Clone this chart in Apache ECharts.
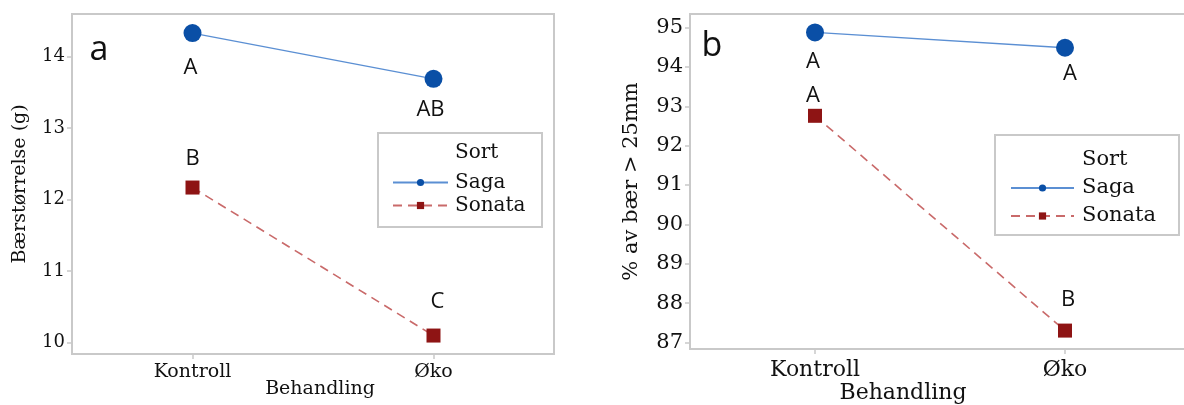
<!DOCTYPE html>
<html>
<head>
<meta charset="utf-8">
<script src="https://cdn.jsdelivr.net/npm/echarts@6/dist/echarts.min.js"></script>
<style>
  html, body { margin: 0; padding: 0; background: #ffffff; }
  #chart { width: 1184px; height: 405px; }
</style>
</head>
<body>
<div id="chart"></div>
<script>
// Treatments on the x axis
const categories = ['Kontroll', 'Øko'];
const legendTitle = 'Sort';
const varieties = ['Saga', 'Sonata'];

// Panel a: berry size (g)
const sagaSize = [14.33, 13.69];
const sonataSize = [12.17, 10.10];
const sagaSizeLetters = ['A', 'AB'];
const sonataSizeLetters = ['B', 'C'];
const sizeTicks = [10, 11, 12, 13, 14];

// Panel b: share of berries > 25 mm (%)
const sagaShare = [94.88, 94.49];
const sonataShare = [92.76, 87.30];
const sagaShareLetters = ['A', 'A'];
const sonataShareLetters = ['A', 'B'];
const shareTicks = [87, 88, 89, 90, 91, 92, 93, 94, 95];

const SERIF = '"DejaVu Serif", "Liberation Serif", serif';
const SANS = '"Open Sans", "Noto Sans", sans-serif';
const BLUE = '#0a4fa6';
const BLUE_LINE = '#5b8fd3';
const RED = '#8e1414';
const RED_LINE = '#c96a6a';
const FRAME = '#c9c9c9';

// Significance letters sit centred on the marker and are nudged above/below it
function lettered(values, letters, nudges) {
  return values.map((v, i) => ({
    value: v,
    label: { formatter: letters[i], offset: nudges[i] }
  }));
}

function lineSeries(name, values, letters, nudges, idx, isSaga) {
  return {
    name: name,
    type: 'line',
    xAxisIndex: idx,
    yAxisIndex: idx,
    data: lettered(values, letters, nudges),
    symbol: isSaga ? 'circle' : 'rect',
    symbolSize: isSaga ? 18 : 14,
    itemStyle: { color: isSaga ? BLUE : RED },
    lineStyle: {
      color: isSaga ? BLUE_LINE : RED_LINE,
      width: isSaga ? 1.4 : 1.6,
      type: isSaga ? 'solid' : [9, 6]
    },
    label: {
      show: true,
      position: 'inside',
      color: '#111111',
      fontFamily: SANS,
      fontSize: 22
    },
    emphasis: { disabled: true },
    animation: false,
    z: isSaga ? 3 : 2
  };
}

function xAxisFor(idx, fontSize, labelMargin, titleGap, titleShift) {
  return {
    type: 'category',
    gridIndex: idx,
    data: categories,
    boundaryGap: true,
    axisLine: { show: true, lineStyle: { color: FRAME, width: 2 } },
    axisTick: { show: true, alignWithLabel: true, length: 5, lineStyle: { color: FRAME, width: 1.5 } },
    axisLabel: { color: '#111111', fontFamily: SERIF, fontSize: fontSize, margin: labelMargin },
    splitLine: { show: false },
    name: 'Behandling',
    nameLocation: 'middle',
    nameGap: titleGap,
    nameMoveOverlap: false,
    nameTextStyle: {
      color: '#111111', fontFamily: SERIF, fontSize: fontSize,
      padding: titleShift > 0 ? [0, 0, 0, titleShift] : [0, -titleShift, 0, 0]
    }
  };
}

function yAxisFor(idx, min, max, ticks, title, fontSize, titleSize, gap) {
  return {
    type: 'value',
    gridIndex: idx,
    min: min,
    max: max,
    axisLine: { show: true, lineStyle: { color: FRAME, width: 2 } },
    axisTick: { show: true, length: 5, customValues: ticks, lineStyle: { color: FRAME, width: 1.5 } },
    axisLabel: { color: '#111111', fontFamily: SERIF, fontSize: fontSize, margin: 7, customValues: ticks },
    splitLine: { show: false },
    name: title,
    nameLocation: 'middle',
    nameRotate: 90,
    nameGap: gap,
    nameTextStyle: { color: '#111111', fontFamily: SERIF, fontSize: titleSize }
  };
}

function legendFor(left, top, fontSize, rowPitch, iconWidth, textGap) {
  return {
    data: varieties,
    orient: 'vertical',
    left: left,
    top: top,
    itemWidth: iconWidth,
    itemHeight: 9,
    itemGap: 0,
    selectedMode: false,
    textStyle: {
      color: '#111111', fontFamily: SERIF, fontSize: fontSize,
      lineHeight: rowPitch, padding: [0, 0, 0, textGap]
    }
  };
}

const chart = echarts.init(document.getElementById('chart'), null, { renderer: 'canvas' });

chart.setOption({
  backgroundColor: '#ffffff',
  animation: false,
  grid: [
    { left: 72, top: 14, width: 482, height: 340, outerBoundsMode: 'none', containLabel: false, show: true, borderColor: FRAME, borderWidth: 2, backgroundColor: 'transparent' },
    { left: 690, top: 14, width: 500, height: 335, outerBoundsMode: 'none', containLabel: false, show: true, borderColor: FRAME, borderWidth: 2, backgroundColor: 'transparent' }
  ],
  xAxis: [xAxisFor(0, 19, 9, 26, 14), xAxisFor(1, 22, 10, 33, -74)],
  yAxis: [
    yAxisFor(0, 9.842, 14.597, sizeTicks, 'Bærstørrelse (g)', 18, 19, 42),
    yAxisFor(1, 86.832, 95.348, shareTicks, '% av bær > 25mm', 21, 21, 48)
  ],
  legend: [
    legendFor(387, 166, 20, 23, 55, 2),
    legendFor(1005, 169, 21, 28, 63, 3)
  ],
  graphic: [
    // legend frames and their heading
    { type: 'rect', shape: { x: 378, y: 133, width: 164, height: 94 }, style: { fill: 'none', stroke: FRAME, lineWidth: 2 }, z: 1 },
    { type: 'rect', shape: { x: 995, y: 135, width: 184, height: 100 }, style: { fill: 'none', stroke: FRAME, lineWidth: 2 }, z: 1 },
    { type: 'text', x: 455, y: 153, style: { text: legendTitle, fill: '#111111', font: '20px ' + SERIF, textVerticalAlign: 'middle' }, z: 5 },
    { type: 'text', x: 1082, y: 160, style: { text: legendTitle, fill: '#111111', font: '21px ' + SERIF, textVerticalAlign: 'middle' }, z: 5 },
    // panel tags
    { type: 'text', x: 99, y: 50, style: { text: 'a', fill: '#111111', font: '34px ' + SANS, textAlign: 'center', textVerticalAlign: 'middle' }, z: 5 },
    { type: 'text', x: 712, y: 46, style: { text: 'b', fill: '#111111', font: '34px ' + SANS, textAlign: 'center', textVerticalAlign: 'middle' }, z: 5 }
  ],
  series: [
    lineSeries('Saga', sagaSize, sagaSizeLetters, [[-2, 35], [-3, 31]], 0, true),
    lineSeries('Sonata', sonataSize, sonataSizeLetters, [[0, -29], [4, -34]], 0, false),
    lineSeries('Saga', sagaShare, sagaShareLetters, [[-2, 29], [5, 26]], 1, true),
    lineSeries('Sonata', sonataShare, sonataShareLetters, [[-2, -20], [3, -31]], 1, false)
  ]
});
</script>
</body>
</html>
